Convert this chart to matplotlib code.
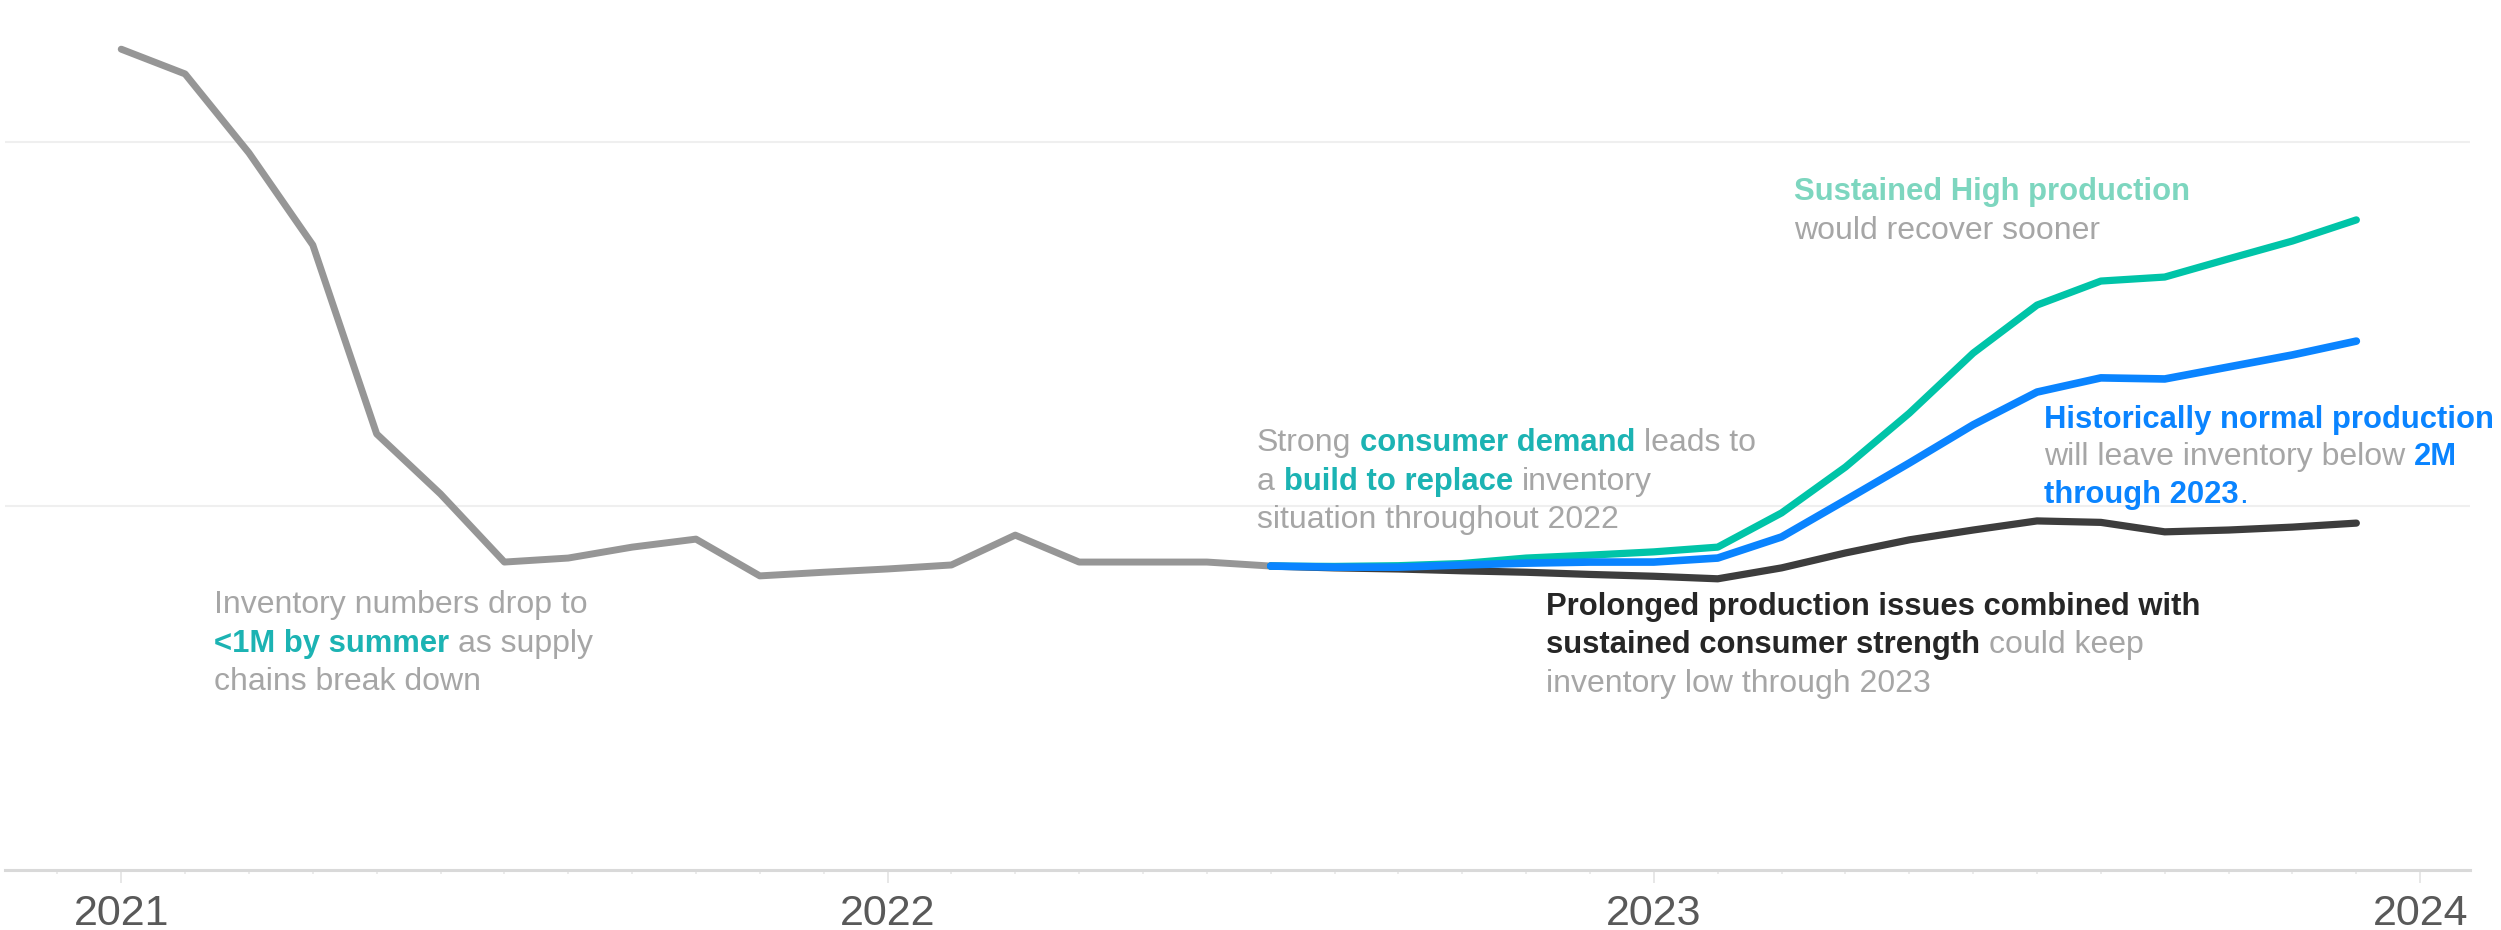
import numpy as np
import matplotlib
matplotlib.use("Agg")
import matplotlib.pyplot as plt

# months counted from Jan 2021 (0) to Dec 2023 (35), values in millions of units
hist_months = np.arange(0, 19)
hist_vals = [2.255, 2.187, 1.97, 1.717, 1.198, 1.033, 0.846, 0.857, 0.887, 0.909,
             0.808, 0.818, 0.827, 0.838, 0.920, 0.846, 0.846, 0.846, 0.835]

scen_months = np.arange(18, 36)
high_vals = [0.835, 0.834, 0.836, 0.842, 0.857, 0.865, 0.874, 0.887, 0.981, 1.107,
             1.255, 1.420, 1.552, 1.618, 1.629, 1.679, 1.728, 1.786]
normal_vals = [0.835, 0.832, 0.832, 0.838, 0.843, 0.846, 0.846, 0.857, 0.915, 1.016,
               1.118, 1.223, 1.313, 1.352, 1.349, 1.382, 1.415, 1.453]
prolonged_vals = [0.835, 0.830, 0.827, 0.822, 0.818, 0.812, 0.807, 0.800, 0.830, 0.871,
                  0.907, 0.934, 0.959, 0.955, 0.929, 0.934, 0.942, 0.953]

year_ticks = [0, 12, 24, 36]
year_labels = ["2021", "2022", "2023", "2024"]

# colours
GREY_LINE = "#969696"
TEAL_LINE = "#00C4A8"
BLUE = "#0A84FF"
DARK_LINE = "#3D3D3D"
TXT_GREY = "#A6A6A6"
TXT_TEAL = "#1CB3B3"
TXT_LTEAL = "#7DD6BF"
TXT_DARK = "#262626"

W, H = 2501, 930
plt.rcParams['font.family'] = ['Liberation Sans', 'DejaVu Sans']

fig = plt.figure(figsize=(W / 100, H / 100), dpi=100)
ax = fig.add_axes([5 / W, 60 / H, 2465 / W, 870 / H])

ax.plot(hist_months, hist_vals, color=GREY_LINE, lw=5, solid_capstyle='round',
        solid_joinstyle='round')
ax.plot(scen_months, prolonged_vals, color=DARK_LINE, lw=5.2, solid_capstyle='round')
ax.plot(scen_months, high_vals, color=TEAL_LINE, lw=5.2, solid_capstyle='round')
ax.plot(scen_months, normal_vals, color=BLUE, lw=5.5, solid_capstyle='round')

ax.set_xlim(-1.82, 36.78)
ax.set_ylim(0, 870 / 364)

# gridlines and axis
for v in [1, 2]:
    ax.axhline(v, color="#EFEFEF", lw=1.5, zorder=0)
for s in ['top', 'right', 'left']:
    ax.spines[s].set_visible(False)
ax.spines['bottom'].set_color("#D9D9D9")
ax.spines['bottom'].set_linewidth(2.2)
ax.set_yticks([])
ax.set_xticks(year_ticks)
ax.set_xticklabels(year_labels)
ax.set_xticks(np.arange(-1, 37), minor=True)
ax.tick_params(axis='x', which='major', length=9, width=1.2, color="#E3E3E3",
               labelsize=31, labelcolor="#595959", pad=8)
ax.tick_params(axis='x', which='minor', length=3, width=1.2, color="#E8E8E8")

renderer = fig.canvas.get_renderer()
FS = 23      # regular text
FS_B = 22.3  # bold text


def space_width(bold):
    w = 'bold' if bold else 'normal'
    size = FS_B if bold else FS
    a = fig.text(0, 0, "a a", fontsize=size, fontweight=w)
    b = fig.text(0, 0, "aa", fontsize=size, fontweight=w)
    sw = a.get_window_extent(renderer).width - b.get_window_extent(renderer).width
    a.remove()
    b.remove()
    return sw


SPACE = {True: space_width(True), False: space_width(False)}


def rich_line(x, y, parts):
    # x, y in figure pixels from top-left, y is the baseline
    for s, color, bold in parts:
        x += (len(s) - len(s.lstrip(' '))) * SPACE[bold]
        core = s.strip(' ')
        t = fig.text(x / W, 1 - y / H, core, color=color,
                     fontsize=FS_B if bold else FS,
                     fontweight='bold' if bold else 'normal', ha='left', va='baseline')
        x += t.get_window_extent(renderer).width
        x += (len(s) - len(s.rstrip(' '))) * SPACE[bold]


# left note
rich_line(214, 613, [("Inventory numbers drop to", TXT_GREY, False)])
rich_line(214, 652, [("<1M by summer", TXT_TEAL, True), (" as supply", TXT_GREY, False)])
rich_line(214, 690, [("chains break down", TXT_GREY, False)])

# middle note
rich_line(1257, 451, [("Strong ", TXT_GREY, False), ("consumer demand", TXT_TEAL, True),
                      (" leads to", TXT_GREY, False)])
rich_line(1257, 490, [("a ", TXT_GREY, False), ("build to replace", TXT_TEAL, True),
                      (" inventory", TXT_GREY, False)])
rich_line(1257, 528, [("situation throughout 2022", TXT_GREY, False)])

# high production
rich_line(1794, 200, [("Sustained High production", TXT_LTEAL, True)])
rich_line(1794, 239, [("would recover sooner", TXT_GREY, False)])

# normal production
rich_line(2044, 428, [("Historically normal production", BLUE, True)])
rich_line(2044, 465, [("will leave inventory below ", TXT_GREY, False), ("2M", BLUE, True)])
rich_line(2044, 503, [("through 2023", BLUE, True), (".", BLUE, False)])

# prolonged issues
rich_line(1546, 615, [("Prolonged production issues combined with", TXT_DARK, True)])
rich_line(1546, 653, [("sustained consumer strength", TXT_DARK, True),
                      (" could keep", TXT_GREY, False)])
rich_line(1546, 692, [("inventory low through 2023", TXT_GREY, False)])

fig.savefig("out.png", dpi=100, facecolor="white")
